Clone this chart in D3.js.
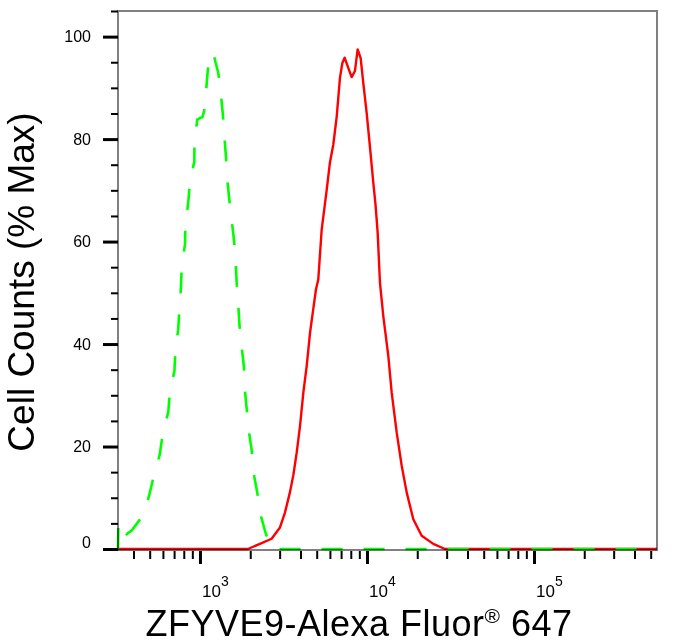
<!DOCTYPE html>
<html>
<head>
<meta charset="utf-8">
<script src="https://cdn.jsdelivr.net/npm/d3@7"></script>
<style>
  body { margin: 0; background: #fff; }
  svg { display: block; font-family: "Liberation Sans", Arial, sans-serif; }
</style>
</head>
<body>
<div class="histogram"></div>
<script>
// isotype control (green dashed)
const isoIntensity = [323, 325, 364, 390, 457, 496, 532, 575, 600, 646, 661, 703, 713, 741, 754, 769, 778, 813, 819, 851,
    871, 925, 927, 964, 986, 1035, 1071, 1094, 1121, 1172, 1201, 1239, 1288, 1336, 1374, 1400, 1432, 1457, 1497, 1548,
    1599, 1636, 1660, 1695, 1725, 1778, 1835, 1853, 1905, 1958, 2042, 2086, 2204, 2309, 2483, 2698, 545000];
const isoCounts = [0, 5.4, 2.9, 3.6, 6.6, 10.4, 14.6, 18.5, 22.8, 26.7, 30.8, 34.7, 38.8, 42.9, 47.0, 51.0, 55.2, 59.4, 63.5, 67.7,
    71.6, 75.6, 79.7, 83.8, 84.0, 84.3, 86.1, 90.4, 94.5, 96.6, 96.9, 95.0, 92.9, 88.6, 84.5, 80.5, 76.5, 72.2, 68.3, 64.2,
    60.3, 56.0, 51.8, 47.7, 43.6, 39.4, 35.4, 31.4, 27.3, 23.2, 19.2, 15.1, 11.0, 6.6, 2.9, 0, 0];

// ZFYVE9 stained sample (red)
const sampleIntensity = [323, 1937, 2286, 2686, 3013, 3228, 3459, 3622, 3795, 3972, 4159, 4355, 4561, 4768, 4951, 5110,
    5355, 5739, 5999, 6284, 6589, 6894, 7117, 7350, 7724, 8096, 8472, 8795, 9166, 9501, 9957, 10420, 10910, 11250, 11590,
    11960, 12520, 13420, 14060, 15070, 16150, 17300, 18940, 21260, 24960, 29310, 545000];
const sampleCounts = [0, 0, 1.0, 2.0, 4.2, 7.1, 11.1, 14.4, 18.8, 24.0, 30.5, 35.7, 42.2, 46.8, 50.7, 52.6,
    62.3, 70.1, 75.4, 78.9, 84.4, 92.0, 94.8, 95.9, 93.9, 92.1, 93.3, 97.5, 95.8, 91.0, 85.1, 78.5, 71.5, 67.2, 61.7,
    52.0, 45.5, 37.7, 30.5, 22.7, 16.2, 11.0, 5.8, 2.6, 1.0, 0, 0];

const yTicks = [0, 20, 40, 60, 80, 100];
const yMinorTicks = [5, 10, 15, 25, 30, 35, 45, 50, 55, 65, 70, 75, 85, 90, 95, 105];
const xDecades = [1e3, 1e4, 1e5];
const xExponents = ["3", "4", "5"];

// margin convention
const margin = ({top: 11, right: 26, bottom: 94, left: 118});
const width = 683 - margin.left - margin.right;
const height = 644 - margin.top - margin.bottom;

const svg = d3.select(".histogram")
    .append("svg")
    .attr("width", 683)
    .attr("height", 644)
    .append("g")
    .attr("transform", `translate(${margin.left},${margin.top})`);

const xScale = d3.scaleLog()
    .domain([323, 545300])
    .range([0, width]);

const yScale = d3.scaleLinear()
    .domain([0, 105])
    .range([height - 1, 0]);

const line = d3.line()
    .x(d => xScale(d[0]))
    .y(d => yScale(d[1]));

// curves first, the frame is multiplied over them
svg.append("path")
    .datum(d3.zip(sampleIntensity, sampleCounts))
    .attr("fill", "none")
    .attr("stroke", "#ff0000")
    .attr("stroke-width", 2.4)
    .attr("stroke-linejoin", "round")
    .attr("d", line);

svg.append("path")
    .datum(d3.zip(isoIntensity, isoCounts))
    .attr("fill", "none")
    .attr("stroke", "#00ff00")
    .attr("stroke-width", 2.6)
    .attr("stroke-dasharray", "21,21")
    .attr("d", line);

// frame
svg.append("rect")
    .attr("x", 0)
    .attr("y", 0)
    .attr("width", width)
    .attr("height", height)
    .attr("fill", "none")
    .attr("stroke", "#808080")
    .attr("stroke-width", 2)
    .style("mix-blend-mode", "multiply");

// y axis
const yMajor = svg.append("g")
    .attr("class", "axis y-axis")
    .call(d3.axisLeft(yScale).tickValues(yTicks).tickSize(15).tickPadding(12).tickFormat(d3.format("d")));
yMajor.select(".domain").remove();
yMajor.selectAll("line").attr("stroke", "#000").attr("stroke-width", 3);
yMajor.selectAll("text")
    .attr("font-size", 16)
    .attr("fill", "#000")
    .attr("dy", d => d === 0 ? "-0.12em" : "0.32em");

const yMinor = svg.append("g")
    .call(d3.axisLeft(yScale).tickValues(yMinorTicks).tickSize(7).tickFormat(""));
yMinor.select(".domain").remove();
yMinor.selectAll("line").attr("stroke", "#000").attr("stroke-width", 2);

// x axis
const minorX = xScale.ticks().filter(v => !xDecades.includes(v));
const xMinor = svg.append("g")
    .attr("transform", `translate(0,${height + 1})`)
    .call(d3.axisBottom(xScale).tickValues(minorX).tickSize(8).tickFormat(""));
xMinor.select(".domain").remove();
xMinor.selectAll("line").attr("stroke", "#000").attr("stroke-width", 2);

const xMajor = svg.append("g")
    .attr("transform", `translate(0,${height + 1})`)
    .call(d3.axisBottom(xScale).tickValues(xDecades).tickSize(13).tickFormat(""));
xMajor.select(".domain").remove();
xMajor.selectAll("line").attr("stroke", "#000").attr("stroke-width", 3);

const xLabels = svg.append("g")
    .selectAll("text")
    .data(xDecades)
    .enter()
    .append("text")
    .attr("x", d => xScale(d) + 2)
    .attr("y", height + 47)
    .attr("font-size", 17)
    .attr("fill", "#000");
xLabels.append("tspan").text("10");
xLabels.append("tspan")
    .attr("font-size", 14)
    .attr("dy", -11)
    .text((d, i) => xExponents[i]);

// axis titles
const xTitle = svg.append("text")
    .attr("x", 359 - margin.left)
    .attr("y", 636 - margin.top)
    .attr("text-anchor", "middle")
    .attr("font-size", 36)
    .attr("letter-spacing", 0.5)
    .attr("fill", "#000");
xTitle.append("tspan").text("ZFYVE9-Alexa Fluor");
xTitle.append("tspan").attr("font-size", 21).attr("dy", -13).text("®");
xTitle.append("tspan").attr("dy", 13).text(" 647");

svg.append("text")
    .attr("transform", `translate(${34 - margin.left},${282 - margin.top}) rotate(-90)`)
    .attr("text-anchor", "middle")
    .attr("font-size", 37)
    .attr("fill", "#000")
    .text("Cell Counts (% Max)");
</script>
</body>
</html>
